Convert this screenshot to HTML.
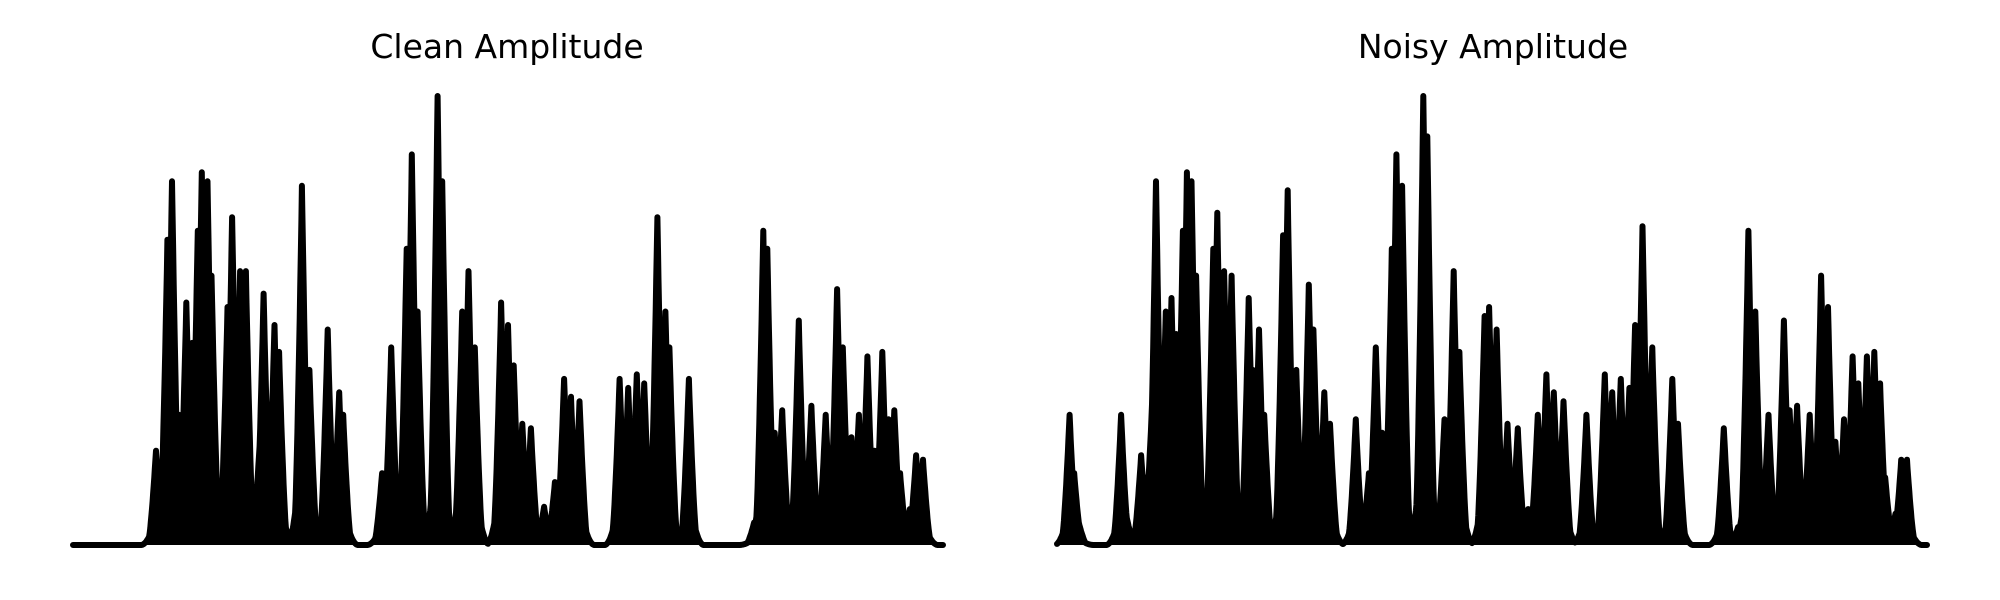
<!DOCTYPE html>
<html><head><meta charset="utf-8"><style>
html,body{margin:0;padding:0;background:#fff;}
svg{display:block;}
</style></head><body>
<svg id="chart" width="2000" height="600" viewBox="0 0 2000 600" xmlns="http://www.w3.org/2000/svg">
<rect width="2000" height="600" fill="#fff"/>
<text x="507" y="58" text-anchor="middle" font-family="DejaVu Sans, Liberation Sans, sans-serif" font-size="33">Clean Amplitude</text>
<text x="1493" y="58" text-anchor="middle" font-family="DejaVu Sans, Liberation Sans, sans-serif" font-size="33">Noisy Amplitude</text>
<g id="left"></g>
<g id="right"></g>
</svg>
<script>
const timeDomain = [0, 1520];
const cleanTimes = [145,155,165,173,185,198,208,213,218,225,235,242,270,278,292,302,326,333,352,360,400,413,445,465,472,540,556,567,583,592,602,637,645,680,691,702,748,760,770,785,800,823,842,858,870,885,955,970,985,998,1021,1035,1042,1076,1190,1206,1213,1226,1239,1257,1268,1290,1315,1335,1345,1360,1373,1388,1400,1414,1425,1435,1445,1462,1473,1485];
const cleanAmps = [.21,.14,.68,.81,.29,.54,.45,.28,.70,.83,.81,.60,.53,.73,.61,.61,.22,.56,.49,.43,.80,.39,.48,.34,.29,.16,.44,.14,.66,.87,.52,1.0,.81,.52,.61,.44,.54,.49,.40,.27,.26,.085,.14,.37,.33,.32,.37,.35,.38,.36,.73,.52,.44,.37,.05,.70,.66,.25,.30,.08,.50,.31,.29,.57,.44,.24,.29,.42,.21,.43,.28,.30,.16,.08,.20,.19];
const noisyTimes = [22,30,38,112,122,147,155,165,173,190,200,208,215,220,227,235,243,273,280,292,305,335,342,353,362,395,403,418,440,448,467,477,522,545,557,568,585,593,603,640,647,677,693,703,747,755,768,787,805,823,840,855,868,885,925,957,970,985,1000,1010,1023,1040,1075,1085,1165,1190,1208,1220,1243,1258,1270,1280,1293,1315,1335,1347,1360,1375,1390,1400,1415,1428,1438,1447,1465,1475,1485];
const noisyAmps = [.29,.16,.05,.29,.06,.20,.15,.28,.81,.52,.55,.47,.29,.70,.83,.81,.60,.66,.74,.61,.60,.55,.39,.48,.29,.69,.79,.39,.58,.48,.34,.27,.28,.16,.44,.25,.66,.87,.80,1.0,.91,.28,.61,.43,.51,.53,.48,.27,.26,.08,.29,.38,.34,.32,.29,.38,.34,.37,.35,.49,.71,.44,.37,.27,.26,.04,.70,.52,.29,.07,.50,.30,.31,.29,.60,.53,.23,.28,.42,.36,.42,.43,.36,.15,.07,.19,.19];

function drawPanel(gid, times, amps, x0, x1, name){
  const g = document.getElementById(gid);
  const base = 545, top = 96;
  const xs = t => x0 + (t - timeDomain[0]) / (timeDomain[1] - timeDomain[0]) * (x1 - x0);
  const ys = a => base - a * (base - top);
  const W = 12;
  let pts = [];
  for (let t = timeDomain[0]; t <= timeDomain[1]; t += 1) {
    let v = 0;
    for (let i = 0; i < times.length; i++) {
      const dd = Math.abs(t - times[i]);
      const narrow = Math.max(0, 1 - dd / W);
      const wide = Math.max(0, 1 - dd / (W * 2.2));
      const sharp = Math.pow(narrow, 1.3);
      v = Math.max(v, amps[i] * (0.7 * sharp + 0.3 * wide * wide));
    }
    pts.push([xs(t), ys(v)]);
  }
  const line = pts.map(p => p[0].toFixed(1) + ',' + p[1].toFixed(1)).join(' ');
  const fill = document.createElementNS('http://www.w3.org/2000/svg', 'polygon');
  
  
  fill.setAttribute('points', line + ' ' + xs(timeDomain[1]).toFixed(1) + ',' + base + ' ' + xs(timeDomain[0]).toFixed(1) + ',' + base);
  fill.setAttribute('fill', '#000');
  g.appendChild(fill);
  const pl = document.createElementNS('http://www.w3.org/2000/svg', 'polyline');
  
  
  pl.setAttribute('points', line);
  pl.setAttribute('fill', 'none');
  pl.setAttribute('stroke', '#000');
  pl.setAttribute('stroke-width', '6');
  pl.setAttribute('stroke-linejoin', 'round');
  pl.setAttribute('stroke-linecap', 'round');
  g.appendChild(pl);
}
drawPanel('left', cleanTimes, cleanAmps, 73, 943, 'clean-amplitude');
drawPanel('right', noisyTimes, noisyAmps, 1057, 1927, 'noisy-amplitude');
</script>
</body></html>
